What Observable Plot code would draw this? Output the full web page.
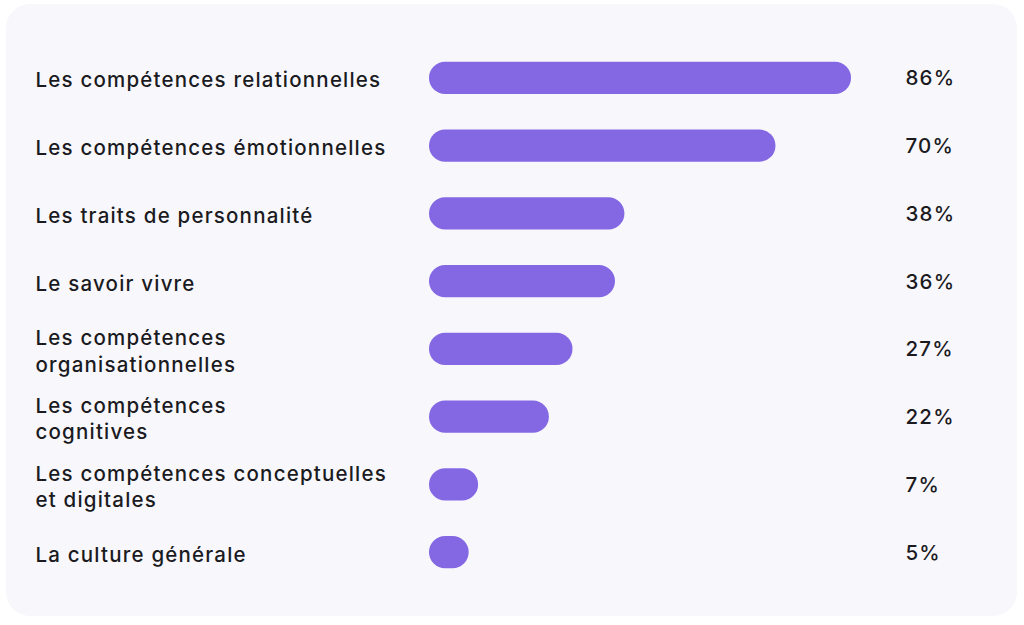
<!DOCTYPE html>
<html>
<head>
<meta charset="utf-8">
<script src="https://cdn.jsdelivr.net/npm/d3@7"></script>
<script src="https://cdn.jsdelivr.net/npm/@observablehq/plot@0.6"></script>
<style>
  html, body { margin: 0; padding: 0; background: #ffffff; }
  #card {
    position: absolute; left: 6px; top: 4px; width: 1011px; height: 612px;
    background: #f8f8fc; border-radius: 24px;
  }
  #chart { position: absolute; left: 0; top: 0; }
  svg { font-family: Inter, "Noto Sans", sans-serif; }
  svg text { letter-spacing: 1.2px; }
</style>
</head>
<body>
<div id="card"></div>
<div id="chart"></div>
<script>
const categories = [
  "Les compétences relationnelles",
  "Les compétences émotionnelles",
  "Les traits de personnalité",
  "Le savoir vivre",
  "Les compétences\norganisationnelles",
  "Les compétences\ncognitives",
  "Les compétences conceptuelles\net digitales",
  "La culture générale"
];
const values = [86, 70, 38, 36, 27, 22, 7, 5];
const valueLabels = ["86%", "70%", "38%", "36%", "27%", "22%", "7%", "5%"];

const data = categories.map((c, i) => ({category: c, value: values[i], label: valueLabels[i]}));
const base = -3.4;

const chart = Plot.plot({
  width: 1024,
  height: 625,
  marginLeft: 35,
  marginRight: 73,
  marginTop: 0,
  marginBottom: 0,
  style: {background: "transparent", fontFamily: "Inter, 'Noto Sans', sans-serif"},
  x: {domain: [base, 86], range: [429, 851], axis: null},
  y: {domain: categories, range: [44, 586], paddingInner: 0.527, paddingOuter: 0.2635, round: false, axis: null},
  marks: [
    Plot.barX(data, {
      x1: () => base, x2: "value", y: "category",
      fill: "#8468e3", rx: 16
    }),
    Plot.text(data, {
      y: "category", text: "category", frameAnchor: "left", textAnchor: "start", dy: 0.5,
      fontSize: 20.5, fontWeight: 500, fill: "#1b1b1f", lineHeight: 1.3
    }),
    Plot.text(data, {
      y: "category", text: "label", frameAnchor: "right", textAnchor: "start", dx: -46, dy: 0.5,
      fontSize: 20.5, fontWeight: 500, fill: "#1b1b1f"
    })
  ]
});
document.getElementById("chart").appendChild(chart);
</script>
</body>
</html>
